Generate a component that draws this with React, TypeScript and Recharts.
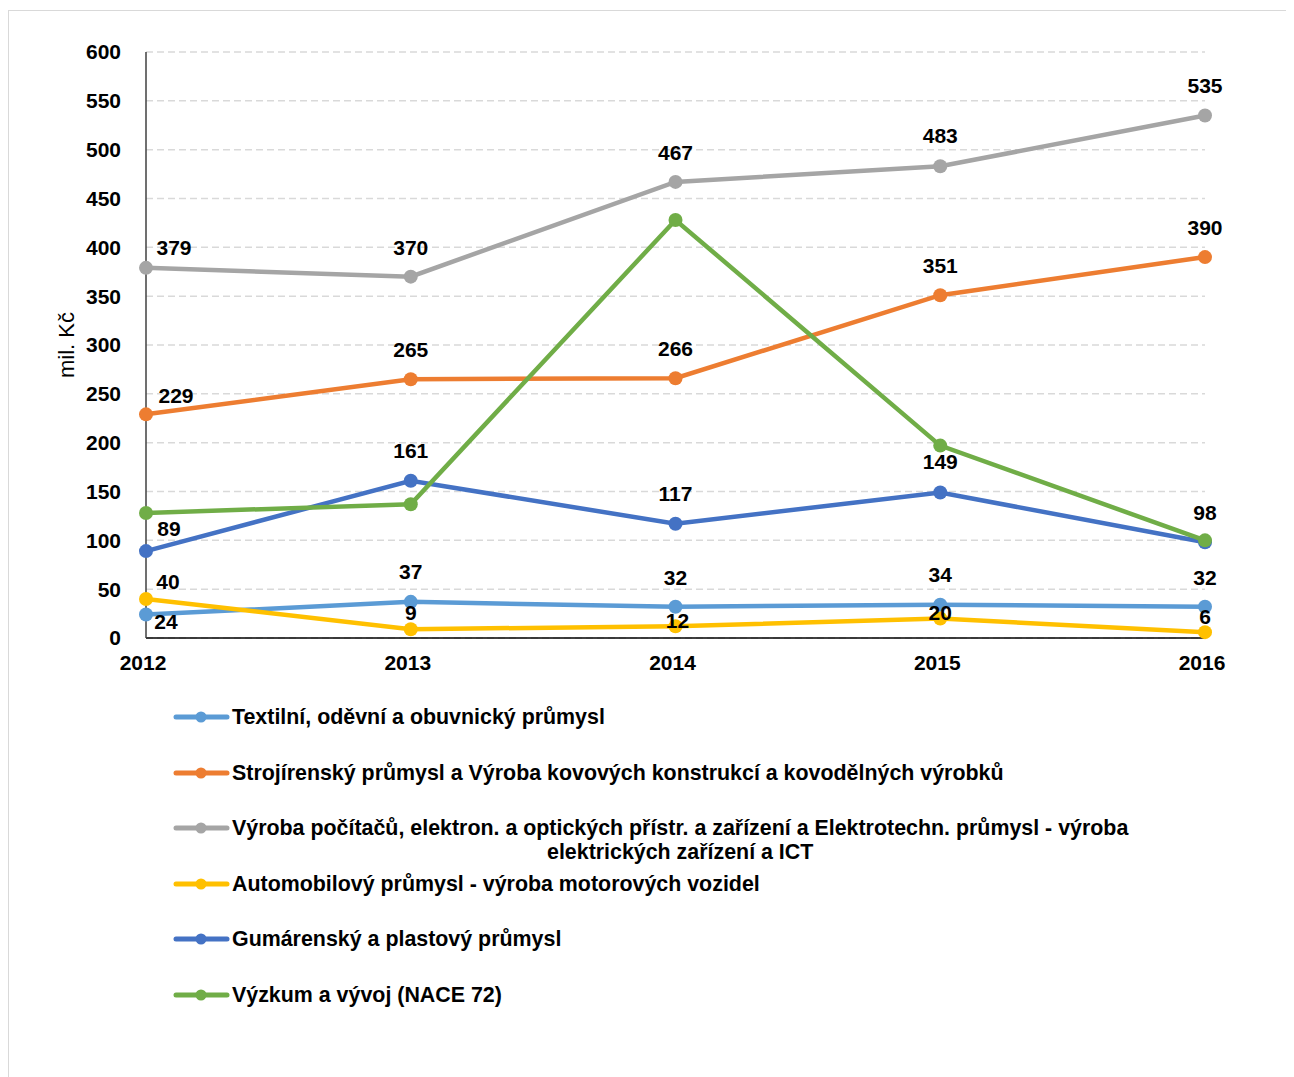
import React from 'react';
import { LineChart, Line, XAxis, YAxis, CartesianGrid, LabelList } from 'recharts';

// categories and series values (mil. Kč)
const years = ['2012', '2013', '2014', '2015', '2016'];
const textil = [24, 37, 32, 34, 32];
const strojirenstvi = [229, 265, 266, 351, 390];
const pocitace = [379, 370, 467, 483, 535];
const automobily = [40, 9, 12, 20, 6];
const plasty = [89, 161, 117, 149, 98];
const vyzkum = [128, 137, 428, 197, 100];
const yTicks = [0, 50, 100, 150, 200, 250, 300, 350, 400, 450, 500, 550, 600];

const seriesNames = [
  'Textilní, oděvní a obuvnický průmysl',
  'Strojírenský průmysl a Výroba kovových konstrukcí a kovodělných výrobků',
  'Výroba počítačů, elektron. a optických přístr. a zařízení a Elektrotechn. průmysl - výroba\nelektrických zařízení a ICT',
  'Automobilový průmysl - výroba motorových vozidel',
  'Gumárenský a plastový průmysl',
  'Výzkum a vývoj (NACE 72)',
];

const data = years.map((year, i) => ({
  year,
  s0: textil[i],
  s1: strojirenstvi[i],
  s2: pocitace[i],
  s3: automobily[i],
  s4: plasty[i],
  s5: vyzkum[i],
}));

const COLORS = ['#5B9BD5', '#ED7D31', '#A5A5A5', '#FFC000', '#4472C4', '#70AD47'];
const FONT = '"Liberation Sans", Arial, sans-serif';

// label offsets from the point centre (dx, dy), one row per series
const LABEL_OFFSETS: ([number, number][] | null)[] = [
  [[20, 7], [0, -30], [0, -29], [0, -30], [0, -29]],
  [[30, -19], [0, -30], [0, -30], [0, -30], [0, -30]],
  [[28, -20], [0, -29], [0, -29], [0, -31], [0, -30]],
  [[22, -17], [0, -17], [2, -6], [0, -6], [0, -16]],
  [[23, -23], [0, -30], [0, -30], [0, -31], [0, -30]],
  null,
];

const makeLabel = (seriesIdx: number) => (props: any) => {
  const { x, y, value, index } = props;
  const off = LABEL_OFFSETS[seriesIdx]?.[index] ?? [0, -30];
  return (
    <text
      x={x + off[0]}
      y={y + off[1]}
      textAnchor="middle"
      dominantBaseline="central"
      fontFamily={FONT}
      fontWeight="bold"
      fontSize={21}
      fill="#000"
    >
      {value}
    </text>
  );
};

const YLabel = (props: any) => {
  const { viewBox } = props;
  const cx = viewBox.x + 57;
  const cy = viewBox.y + viewBox.height / 2;
  return (
    <text
      x={cx}
      y={cy}
      transform={`rotate(-90 ${cx} ${cy})`}
      textAnchor="middle"
      dominantBaseline="central"
      fontFamily={FONT}
      fontSize={22}
      fill="#000"
    >
      mil. Kč
    </text>
  );
};

const LegendIcon = ({ color }: { color: string }) => (
  <svg width={57} height={12} style={{ flex: 'none', marginTop: 6 }}>
    <line x1={3} y1={6} x2={54} y2={6} stroke={color} strokeWidth={5} strokeLinecap="round" />
    <circle cx={28} cy={6} r={5.5} fill={color} />
  </svg>
);

export default function App() {
  return (
    <div
      style={{
        position: 'relative',
        marginTop: 2,
        width: 1285,
        height: 1066,
        borderTop: '1px solid #d9d9d9',
        borderLeft: '1px solid #d9d9d9',
        background: '#fff',
        fontFamily: FONT,
      }}
    >
      <LineChart
        width={1285}
        height={1066}
        data={data}
        margin={{ top: 41, right: 89, bottom: 399, left: 0 }}
      >
        <CartesianGrid vertical={false} stroke="#d9d9d9" strokeWidth={1.5} strokeDasharray="7 4" />
        <XAxis
          dataKey="year"
          axisLine={{ stroke: '#000', strokeWidth: 1.5 }}
          tickLine={false}
          tickSize={0}
          tickMargin={17}
          height={40}
          tick={{ fill: '#000', fontSize: 21, fontWeight: 'bold', fontFamily: FONT, dx: -3 }}
        />
        <YAxis
          domain={[0, 600]}
          ticks={yTicks}
          interval={0}
          width={137}
          axisLine={{ stroke: '#404040', strokeWidth: 1.5 }}
          tickLine={false}
          tickSize={0}
          tickMargin={25}
          tick={{ fill: '#000', fontSize: 21, fontWeight: 'bold', fontFamily: FONT }}
          label={<YLabel />}
        />
        {seriesNames.map((name, i) => (
          <Line
            key={i}
            type="linear"
            dataKey={`s${i}`}
            name={name}
            stroke={COLORS[i]}
            strokeWidth={4.5}
            dot={{ r: 7, fill: COLORS[i], stroke: COLORS[i], strokeWidth: 0 }}
            isAnimationActive={false}
          >
            {LABEL_OFFSETS[i] && <LabelList dataKey={`s${i}`} content={makeLabel(i)} />}
          </Line>
        ))}
      </LineChart>
      <div style={{ position: 'absolute', left: 164, top: 694 }}>
        {seriesNames.map((name, i) => (
          <div
            key={i}
            style={{ display: 'flex', alignItems: 'flex-start', height: 55.6 }}
          >
            <LegendIcon color={COLORS[i]} />
            <span
              style={{
                display: 'inline-block',
                marginLeft: 2,
                fontSize: 21.4,
                fontWeight: 'bold',
                lineHeight: '24px',
                whiteSpace: 'pre-line',
                textAlign: 'center',
                color: '#000',
              }}
            >
              {name}
            </span>
          </div>
        ))}
      </div>
    </div>
  );
}
